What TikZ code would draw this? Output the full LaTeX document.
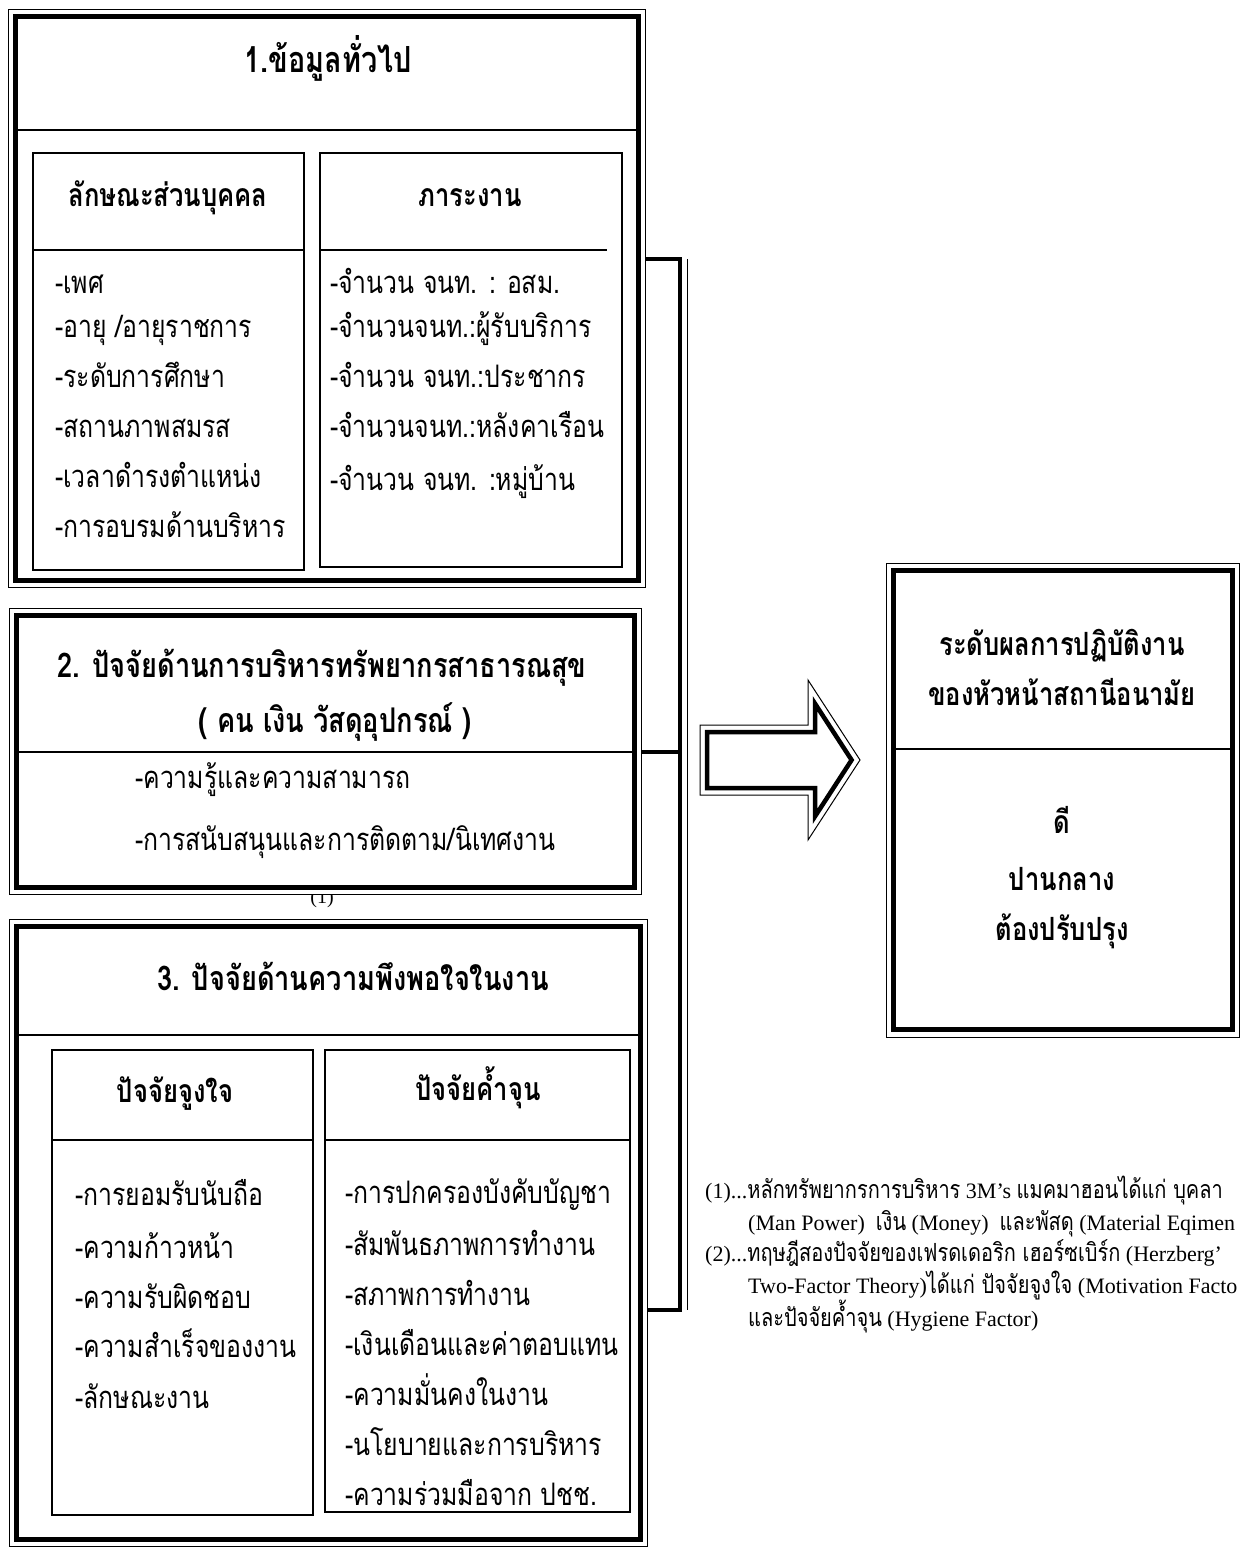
\documentclass[tikz,border=0pt]{standalone}
\usepackage{fontspec}
\setmainfont{Liberation Serif}
\newfontfamily\thaifont[Script=Thai,FakeStretch=0.8]{Loma}
\newcommand\notethai[1]{{\thaifont\fontsize{25}{30}\selectfont #1}}
\usetikzlibrary{positioning,fit}

\begin{document}
\begin{tikzpicture}[x=1pt, y=-1pt,
frame/.style={rectangle, draw, line width=5pt, outer sep=0pt, inner sep=0pt, fill=white},
rim/.style={rectangle, draw, line width=1pt, inner sep=7pt},
panel/.style={rectangle, draw, line width=1.3pt, outer sep=0pt, inner sep=0pt},
heading/.style={anchor=base, inner sep=0pt, font=\thaifont\bfseries\fontsize{34}{40}\selectfont},
title/.style={anchor=base, inner sep=0pt, font=\thaifont\bfseries\fontsize{32}{40}\selectfont},
item/.style={anchor=base west, inner sep=0pt, font=\thaifont\fontsize{31}{40}\selectfont},
note/.style={anchor=base west, inner sep=0pt, font=\fontsize{22}{26}\selectfont},
rule/.style={line width=1.3pt},
bar/.style={line width=4.5pt, line join=miter},
hair/.style={line width=1pt}
]
\useasboundingbox (0,0) rectangle (1246,1550);

% 1. general information
\node[frame, minimum width=623, minimum height=564] (info) at (326.5,298) {};
\node[rim, fit=(info)] (inforim) {};
\node[heading, font=\thaifont\bfseries\fontsize{36}{40}\selectfont] (infohead) at (328,72) {1.ข้อมูลทั่วไป};
\draw[rule] (info.west |- 0,130) -- (info.east |- 0,130);

\node[panel, minimum width=271, minimum height=417] (personal) at (168.5,361.5) {};
\draw[rule] (personal.west |- 0,250) -- (personal.east |- 0,250);
\node[title] (personalhead) at (168,206) {ลักษณะส่วนบุคคล};
\node[item] (p1) at (55,293) {-เพศ};
\node[item] (p2) at (55,337) {-อายุ /อายุราชการ};
\node[item] (p3) at (55,387) {-ระดับการศึกษา};
\node[item] (p4) at (55,437) {-สถานภาพสมรส};
\node[item] (p5) at (55,487) {-เวลาดำรงตำแหน่ง};
\node[item] (p6) at (55,537) {-การอบรมด้านบริหาร};

\node[panel, minimum width=302, minimum height=414] (workload) at (471,360) {};
\draw[rule] (workload.west |- 0,250) -- (607,250);
\node[title] (workloadhead) at (470,206) {ภาระงาน};
\node[item] (w1) at (330,293) {-จำนวน จนท. : อสม.};
\node[item] (w2) at (330,337) {-จำนวนจนท.:ผู้รับบริการ};
\node[item] (w3) at (330,387) {-จำนวน จนท.:ประชากร};
\node[item] (w4) at (330,437) {-จำนวนจนท.:หลังคาเรือน};
\node[item] (w5) at (330,490) {-จำนวน จนท. :หมู่บ้าน};

% 2. resource management
\node[frame, minimum width=618, minimum height=272] (resource) at (325,751) {};
\node[rim, fit=(resource)] (resourcerim) {};
\node[heading] (resourcehead) at (322,677) {2. ปัจจัยด้านการบริหารทรัพยากรสาธารณสุข};
\node[heading] (resourcesub) at (335,732) {( คน เงิน วัสดุอุปกรณ์ )};
\draw[rule] (resource.west |- 0,752) -- (resource.east |- 0,752);
\node[item] (r1) at (135,788) {-ความรู้และความสามารถ};
\node[item] (r2) at (135,850) {-การสนับสนุนและการติดตาม/นิเทศงาน};

% fragment of a footnote mark, half hidden under box 2
\begin{scope}
\clip (300,894.5) rectangle (345,912);
\node[note, anchor=base, font=\fontsize{20}{24}\selectfont] (mark) at (322,903) {(1)};
\end{scope}

% 3. job satisfaction
\node[frame, minimum width=624, minimum height=613] (satisfy) at (328,1232.5) {};
\node[rim, fit=(satisfy)] (satisfyrim) {};
\node[heading] (satisfyhead) at (353,990) {3. ปัจจัยด้านความพึงพอใจในงาน};
\draw[rule] (satisfy.west |- 0,1035) -- (satisfy.east |- 0,1035);

\node[panel, minimum width=261, minimum height=465] (motive) at (182.5,1282.5) {};
\draw[rule] (motive.west |- 0,1140) -- (motive.east |- 0,1140);
\node[title] (motivehead) at (175,1102) {ปัจจัยจูงใจ};
\node[item] (m1) at (75,1205) {-การยอมรับนับถือ};
\node[item] (m2) at (75,1258) {-ความก้าวหน้า};
\node[item] (m3) at (75,1308) {-ความรับผิดชอบ};
\node[item] (m4) at (75,1357) {-ความสำเร็จของงาน};
\node[item] (m5) at (75,1408) {-ลักษณะงาน};

\node[panel, minimum width=305, minimum height=462] (hygiene) at (477.5,1281) {};
\draw[rule] (hygiene.west |- 0,1140) -- (hygiene.east |- 0,1140);
\node[title] (hygienehead) at (478,1100) {ปัจจัยค้ำจุน};
\node[item] (h1) at (345,1203) {-การปกครองบังคับบัญชา};
\node[item] (h2) at (345,1255) {-สัมพันธภาพการทำงาน};
\node[item] (h3) at (345,1305) {-สภาพการทำงาน};
\node[item] (h4) at (345,1355) {-เงินเดือนและค่าตอบแทน};
\node[item] (h5) at (345,1405) {-ความมั่นคงในงาน};
\node[item] (h6) at (345,1455) {-นโยบายและการบริหาร};
\node[item] (h7) at (345,1505) {-ความร่วมมือจาก ปชช.};

% result
\node[frame, minimum width=338.5, minimum height=459] (result) at (1062.75,800) {};
\node[rim, fit=(result), inner sep=7.5pt] (resultrim) {};
\draw[rule] (result.west |- 0,749) -- (result.east |- 0,749);
\node[title] (resulthead) at (1062,655) {ระดับผลการปฏิบัติงาน};
\node[title] (resultsub) at (1062,705) {ของหัวหน้าสถานีอนามัย};
\node[title] (good) at (1062,833) {ดี};
\node[title] (fair) at (1062,890) {ปานกลาง};
\node[title] (poor) at (1062,940) {ต้องปรับปรุง};

% bracket joining the three groups
\coordinate (jtop) at (680,259);
\coordinate (jbot) at (680,1310);
\draw[bar] (inforim.east |- jtop) -- (jtop) -- (jbot) -- (satisfyrim.east |- jbot);
\draw[bar] (resourcerim.east |- 0,752) -- (jtop |- 0,752);
\draw[hair] ([xshift=7pt]jtop) -- ([xshift=7pt]jbot);

% hollow arrow
\draw[bar] (707,732) -- (815,732) -- (815,703.6) -- (851.6,760) -- (815,816.4) -- (815,788) -- (707,788) -- cycle;
\draw[hair] (700,725) -- (808,725) -- (808,680) -- (860,760) -- (808,840) -- (808,795) -- (700,795) -- cycle;

% notes
\node[note] (n1) at (705,1198) {(1)...\notethai{หลักทรัพยากรการบริหาร} 3M’s \notethai{แมคมาฮอนได้แก่ บุคลา}};
\node[note] (n2) at (748,1230) {(Man Power)\ \ \notethai{เงิน} (Money)\ \ \notethai{และพัสดุ} (Material Eqimen};
\node[note] (n3) at (705,1261) {(2)...\notethai{ทฤษฎีสองปัจจัยของเฟรดเดอริก เฮอร์ซเบิร์ก} (Herzberg’};
\node[note] (n4) at (748,1293) {Two-Factor Theory)\notethai{ได้แก่ ปัจจัยจูงใจ} (Motivation Facto};
\node[note] (n5) at (748,1326) {\notethai{และปัจจัยค้ำจุน} (Hygiene Factor)};
\end{tikzpicture}
\end{document}
